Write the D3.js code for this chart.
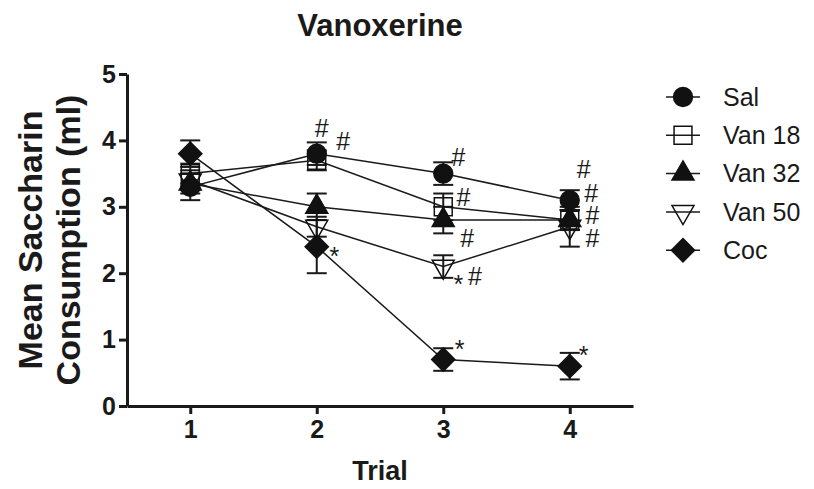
<!DOCTYPE html>
<html>
<head>
<meta charset="utf-8">
<script src="https://cdn.jsdelivr.net/npm/d3@7"></script>
<style>
  body { margin: 0; background: #fff; }
  text { font-family: "Liberation Sans", Arial, sans-serif; fill: #1a1a1a; }
  .axis path, .axis line { stroke: #1a1a1a; stroke-width: 3; }
  .axis text { font-size: 25px; font-weight: bold; }
</style>
</head>
<body>
<div id="chart"></div>
<script>
// data
const trials = [1, 2, 3, 4];
const groups = ['Sal', 'Van 18', 'Van 32', 'Van 50', 'Coc'];
const salMean = [3.3, 3.8, 3.5, 3.1];
const salErr = [0.2, 0.17, 0.17, 0.15];
const van18Mean = [3.5, 3.7, 3.0, 2.8];
const van18Err = [0.15, 0.15, 0.2, 0.15];
const van32Mean = [3.35, 3.0, 2.8, 2.8];
const van32Err = [0.15, 0.2, 0.2, 0.15];
const van50Mean = [3.4, 2.7, 2.1, 2.7];
const van50Err = [0.15, 0.15, 0.17, 0.3];
const cocMean = [3.8, 2.4, 0.7, 0.6];
const cocErr = [0.2, 0.4, 0.17, 0.2];
const yTicks = [0, 1, 2, 3, 4, 5];

// significance marks (trial, value at glyph centre, text)
const marks = [
    { t: 2.04, v: 4.19, s: '#' }, { t: 2.21, v: 3.98, s: '#' }, { t: 2.14, v: 2.35, s: '*' },
    { t: 3.12, v: 3.75, s: '#' }, { t: 3.16, v: 3.15, s: '#' }, { t: 3.19, v: 2.53, s: '#' },
    { t: 3.12, v: 1.93, s: '*' }, { t: 3.25, v: 1.95, s: '#' }, { t: 3.13, v: 0.95, s: '*' },
    { t: 4.11, v: 3.57, s: '#' }, { t: 4.17, v: 3.2, s: '#' }, { t: 4.18, v: 2.87, s: '#' },
    { t: 4.18, v: 2.52, s: '#' }, { t: 4.11, v: 0.87, s: '*' }
];

const series = [
    { name: groups[0], mean: salMean, err: salErr, shape: 'circle', filled: true },
    { name: groups[1], mean: van18Mean, err: van18Err, shape: 'square', filled: false },
    { name: groups[2], mean: van32Mean, err: van32Err, shape: 'triangle', filled: true },
    { name: groups[3], mean: van50Mean, err: van50Err, shape: 'invtriangle', filled: false },
    { name: groups[4], mean: cocMean, err: cocErr, shape: 'diamond', filled: true }
];

const W = 814, H = 489;
const margin = { left: 127, right: 181, top: 74, bottom: 83 };
const width = W - margin.left - margin.right;
const height = H - margin.top - margin.bottom;

const svg = d3.select('#chart').append('svg')
    .attr('width', W).attr('height', H);

const xScale = d3.scaleLinear().domain([0.5, 4.5]).range([margin.left, margin.left + width]);
const yScale = d3.scaleLinear().domain([0, 5]).range([margin.top + height, margin.top]);

function markerPath(shape) {
    if (shape === 'circle') return d3.symbol(d3.symbolCircle, 280)();
    if (shape === 'square') return d3.symbol(d3.symbolSquare, 320)();
    if (shape === 'triangle' || shape === 'invtriangle') return d3.symbol(d3.symbolTriangle, 210)();
    return d3.symbol(d3.symbolSquare, 270)();
}
function markerRotate(shape) {
    if (shape === 'invtriangle') return 180;
    if (shape === 'diamond') return 45;
    return 0;
}

// title
svg.append('text')
    .attr('x', xScale(2.5)).attr('y', 36)
    .attr('text-anchor', 'middle')
    .style('font-size', '31px').style('font-weight', 'bold')
    .text('Vanoxerine');

// axes
svg.append('g').classed('axis', true)
    .attr('transform', `translate(0, ${yScale(0)})`)
    .call(d3.axisBottom(xScale).tickValues(trials).tickFormat(d3.format('d')).tickSize(8).tickSizeOuter(0).tickPadding(6));
svg.append('g').classed('axis', true)
    .attr('transform', `translate(${margin.left}, 0)`)
    .call(d3.axisLeft(yScale).tickValues(yTicks).tickFormat(d3.format('d')).tickSize(8).tickSizeOuter(0).tickPadding(3));

svg.append('text')
    .attr('x', xScale(2.5)).attr('y', 480)
    .attr('text-anchor', 'middle')
    .style('font-size', '27px').style('font-weight', 'bold')
    .text('Trial');

let yLab = svg.append('text')
    .attr('transform', `translate(0, ${yScale(2.5)}) rotate(-90)`)
    .attr('text-anchor', 'middle')
    .style('font-size', '34px').style('font-weight', 'bold');
yLab.append('tspan').attr('x', 0).attr('y', 42).text('Mean Saccharin');
yLab.append('tspan').attr('x', 0).attr('y', 80).text('Consumption (ml)');

// lines
const line = d3.line()
    .x((d, i) => xScale(trials[i]))
    .y(d => yScale(d));
svg.append('g').selectAll('path')
    .data(series).enter().append('path')
    .attr('d', d => line(d.mean))
    .attr('fill', 'none')
    .attr('stroke', '#1a1a1a')
    .attr('stroke-width', 1.5);

// error bars
const capW = 10;
series.forEach(s => {
    let g = svg.append('g').attr('stroke', '#1a1a1a').attr('stroke-width', 2);
    s.mean.forEach((m, i) => {
        let x = xScale(trials[i]);
        let y0 = yScale(m - s.err[i]), y1 = yScale(m + s.err[i]);
        g.append('line').attr('x1', x).attr('x2', x).attr('y1', y0).attr('y2', y1);
        g.append('line').attr('x1', x - capW).attr('x2', x + capW).attr('y1', y0).attr('y2', y0);
        g.append('line').attr('x1', x - capW).attr('x2', x + capW).attr('y1', y1).attr('y2', y1);
    });
});

// markers
series.forEach(s => {
    svg.append('g').selectAll('path')
        .data(s.mean).enter().append('path')
        .attr('d', markerPath(s.shape))
        .attr('transform', (d, i) => `translate(${xScale(trials[i])}, ${yScale(d)}) rotate(${markerRotate(s.shape)})`)
        .attr('fill', s.filled ? '#111' : 'none')
        .attr('stroke', '#111')
        .attr('stroke-width', 1.5);
});

// significance marks
svg.append('g').selectAll('text')
    .data(marks).enter().append('text')
    .attr('x', d => xScale(d.t))
    .attr('y', d => yScale(d.v))
    .attr('dy', d => d.s === '*' ? '0.62em' : '0.35em')
    .attr('text-anchor', 'middle')
    .style('font-size', '25px')
    .text(d => d.s);

// legend
const legend = svg.append('g').attr('transform', 'translate(683, 97)');
let items = legend.selectAll('g')
    .data(series).enter().append('g')
    .attr('transform', (d, i) => `translate(0, ${i * 38.3})`);
items.append('line')
    .attr('x1', -17).attr('x2', 17)
    .attr('stroke', '#1a1a1a').attr('stroke-width', 1.5);
items.append('path')
    .attr('d', d => markerPath(d.shape))
    .attr('transform', d => `rotate(${markerRotate(d.shape)})`)
    .attr('fill', d => d.filled ? '#111' : 'none')
    .attr('stroke', '#111').attr('stroke-width', 1.5);
items.append('text')
    .attr('x', 40).attr('dy', '0.35em')
    .style('font-size', '25px')
    .text(d => d.name);
</script>
</body>
</html>
